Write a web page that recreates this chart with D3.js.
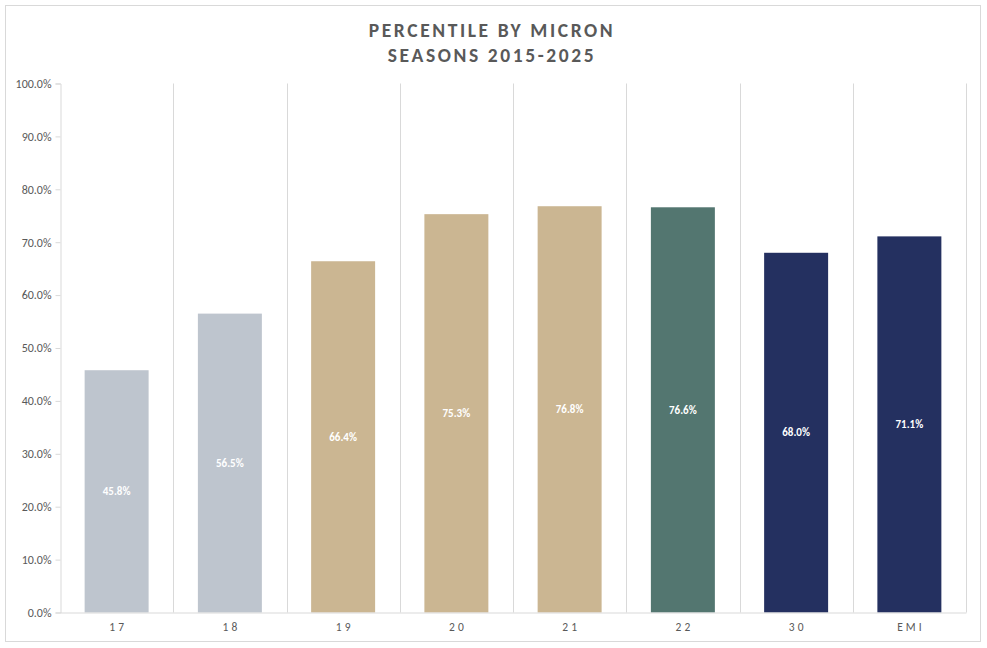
<!DOCTYPE html>
<html><head><meta charset="utf-8">
<script src="https://cdn.jsdelivr.net/npm/d3@7"></script>
<style>
html,body{margin:0;padding:0;background:#fff;}
svg{display:block;}
</style></head>
<body>
<svg id="chart" width="987" height="648"></svg>
<script>
const categories = ["17","18","19","20","21","22","30","EMI"];
const values = [45.8, 56.5, 66.4, 75.3, 76.8, 76.6, 68.0, 71.1];
const barColors = ["#BEC5CE","#BEC5CE","#CBB692","#CBB692","#CBB692","#537670","#243060","#243060"];
const yTicks = [0,10,20,30,40,50,60,70,80,90,100];
const titleLines = ["PERCENTILE BY MICRON","SEASONS 2015-2025"];

const svg = d3.select("#chart");
const font = "Carlito, Calibri, 'Open Sans', 'Liberation Sans', sans-serif";
const m = {left:60, right:966, top:83.5, bottom:612.5};

// chart border
svg.append("rect").attr("x",5.5).attr("y",5.5).attr("width",975).attr("height",636)
  .attr("fill","#fff").attr("stroke","#d9d9d9").attr("stroke-width",1);

const x = d3.scaleBand().domain(categories).range([m.left, m.right]).paddingInner(0.435).paddingOuter(0.2175);
const xb = d3.scaleBand().domain(categories).range([m.left, m.right]).padding(0);
const y = d3.scaleLinear().domain([0,100]).range([m.bottom, m.top]);

// vertical gridlines at category boundaries
const bounds = categories.map(c => xb(c)).concat([m.right]);
svg.append("g").selectAll("line").data(bounds.slice(1)).join("line")
  .attr("x1", d => Math.round(d)+0.5).attr("x2", d => Math.round(d)+0.5)
  .attr("y1", m.top).attr("y2", m.bottom)
  .attr("stroke","#d9d9d9").attr("stroke-width",1);

// y axis
const yAxis = d3.axisLeft(y).tickValues(yTicks).tickSize(5).tickPadding(4)
  .tickFormat(d => d.toFixed(1) + "%");
const yg = svg.append("g").attr("transform",`translate(${m.left+0.5},0)`).call(yAxis);
yg.select(".domain").attr("stroke","#d9d9d9");
yg.selectAll(".tick line").attr("stroke","#d9d9d9");
yg.selectAll(".tick text").attr("fill","#595959").style("font-family",font).style("font-size","12px");

// bars
svg.append("g").selectAll("rect").data(values).join("rect")
  .attr("x",(d,i)=>x(categories[i])).attr("width",x.bandwidth())
  .attr("y",d=>y(d)).attr("height",d=>y(0)-y(d))
  .attr("fill",(d,i)=>barColors[i]);

// x axis
const xg = svg.append("g").attr("transform",`translate(0,${m.bottom})`)
  .call(d3.axisBottom(xb).tickSize(0).tickPadding(10));
xg.select(".domain").attr("stroke","#d9d9d9");
xg.selectAll(".tick text").attr("fill","#595959").style("font-family",font)
  .style("font-size","11.5px").style("letter-spacing","3px").attr("dx","1.5px");

// data labels
svg.append("g").selectAll("text").data(values).join("text")
  .attr("x",(d,i)=>x(categories[i])+x.bandwidth()/2)
  .attr("y",d=>(y(d)+y(0))/2)
  .attr("dy","0.35em").attr("text-anchor","middle")
  .attr("fill","#fff").style("font-family",font).style("font-size","11px").style("font-weight","bold")
  .text(d=>d.toFixed(1)+"%");

// title
svg.append("g").selectAll("text").data(titleLines).join("text")
  .attr("x",492).attr("y",(d,i)=>37+i*25).attr("text-anchor","middle")
  .attr("fill","#595959").style("font-family",font).style("font-size","19.5px").style("font-weight","bold")
  .style("letter-spacing","2.6px")
  .text(d=>d);
</script>
</body></html>
